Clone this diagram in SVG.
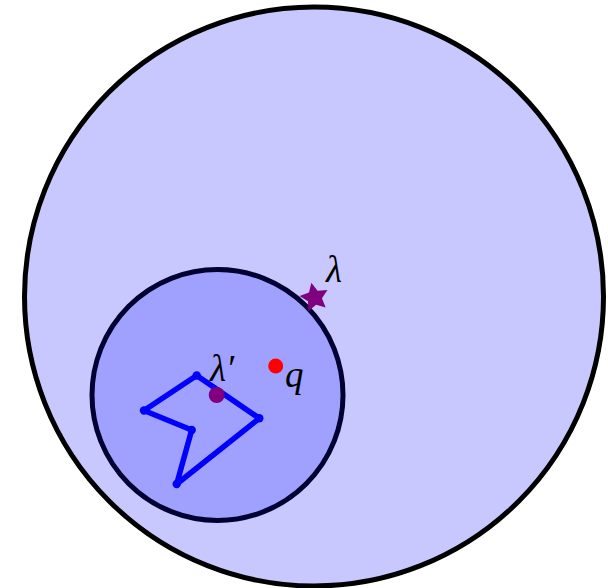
<svg xmlns="http://www.w3.org/2000/svg" width="608" height="588" viewBox="0 0 608 588">
<style>
.lbl{font-family:"Liberation Serif","DejaVu Serif",serif;font-style:italic;font-size:37px;fill:#000}
.vtx{fill:#0000ff}
</style>
<rect width="608" height="588" fill="#fff"/>
<g id="outer"><circle cx="314" cy="296.5" r="289.5" fill="#c8c8ff" stroke="#000" stroke-width="5"/></g>
<g id="inner"><circle cx="217.5" cy="395" r="125.5" fill="#a0a0ff" stroke="#000033" stroke-width="5"/></g>
<g id="connectors">
<polygon points="196.7,375.5 144,410.5 191.7,430 176.7,484 259.3,418.3" fill="none" stroke="#0000ff" stroke-width="5.5" stroke-linejoin="round"/>
</g>
<g id="vertices">
<circle class="vtx" cx="196.7" cy="375.5" r="4.2"/>
<circle class="vtx" cx="144" cy="410.5" r="4.2"/>
<circle class="vtx" cx="191.7" cy="430" r="4.2"/>
<circle class="vtx" cx="176.7" cy="484" r="4.2"/>
<circle class="vtx" cx="259.3" cy="418.3" r="4.2"/>
</g>
<g id="lambda-star">
<polygon points="311.38,282.83 317.55,290.65 327.49,290 321.96,298.28 325.65,307.54 316.06,304.84 308.4,311.2 308,301.25 299.58,295.93 308.93,292.48" fill="#800080"/>
<text class="lbl" x="326" y="282">λ</text>
</g>
<g id="lambda-prime">
<circle cx="216.7" cy="395" r="8" fill="#800080"/>
<text class="lbl" x="210" y="381">λ′</text>
</g>
<g id="q">
<circle cx="275.7" cy="366" r="7.5" fill="#ff0000"/>
<text class="lbl" x="285" y="387">q</text>
</g>
</svg>
